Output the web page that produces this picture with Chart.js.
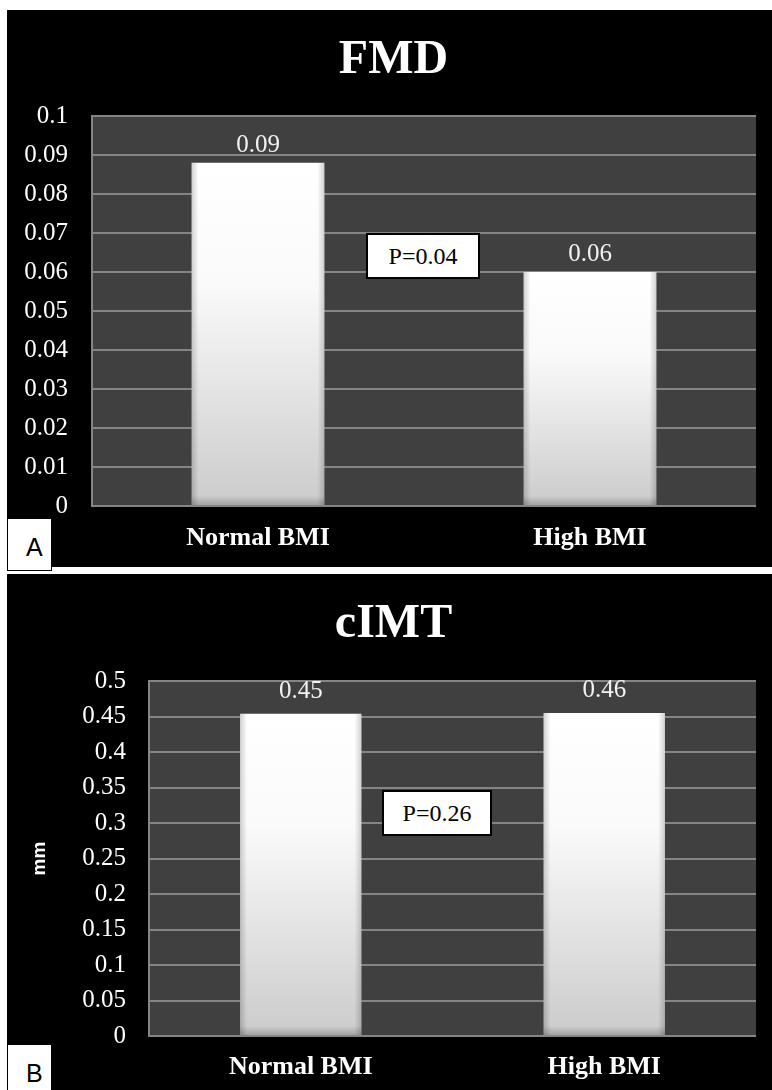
<!DOCTYPE html>
<html>
<head>
<meta charset="utf-8">
<script src="https://cdn.jsdelivr.net/npm/chart.js@4.4.1/dist/chart.umd.min.js"></script>
<style>
html,body{margin:0;padding:0;background:#fff;}
body{width:772px;height:1090px;position:relative;overflow:hidden;}
.panel{position:absolute;left:7px;width:765px;background:#000;}
#pa{top:10px;height:557px;}
#pb{top:574px;height:516px;}
.pbox{position:absolute;background:#fff;border:2px solid #000;box-sizing:border-box;
  font:24px "Liberation Serif","Times New Roman",serif;color:#000;
  display:flex;align-items:center;justify-content:center;}
.tag{position:absolute;left:7px;width:45px;height:53px;background:#fff;border:1.5px solid #000;
  box-sizing:border-box;font:25px "Liberation Sans",Arial,sans-serif;color:#000;
  padding-left:18px;padding-top:6px;line-height:44px;}
</style>
</head>
<body>
<div class="panel" id="pa"><canvas id="fmdChart"></canvas></div>
<div class="panel" id="pb"><canvas id="cimtChart"></canvas></div>
<div class="pbox" style="left:366px;top:233px;width:114px;height:46px">P=0.04</div>
<div class="pbox" style="left:382px;top:790px;width:110px;height:46px">P=0.26</div>
<div class="tag" style="top:518px">A</div>
<div class="tag" style="top:1044px">B</div>
<script>
const CATEGORIES = ['Normal BMI', 'High BMI'];

const FMD_VALUES = [0.088, 0.060];
const FMD_LABELS = ['0.09', '0.06'];
const FMD_TICKS = ['0','0.01','0.02','0.03','0.04','0.05','0.06','0.07','0.08','0.09','0.1'];

const CIMT_VALUES = [0.454, 0.455];
const CIMT_LABELS = ['0.45', '0.46'];
const CIMT_TICKS = ['0','0.05','0.1','0.15','0.2','0.25','0.3','0.35','0.4','0.45','0.5'];

const SERIF = '"Liberation Serif","Times New Roman",serif';

// dark plot area
const plotBg = {
  id:'plotBg',
  beforeDraw(chart){
    const {ctx, chartArea:a} = chart;
    ctx.save();
    ctx.fillStyle = '#404040';
    ctx.fillRect(a.left, a.top, a.right-a.left, a.bottom-a.top);
    ctx.restore();
  }
};

// soft bevel on the bars + value labels above them
const barDeco = {
  id:'barDeco',
  afterDatasetsDraw(chart, args, opts){
    const {ctx} = chart;
    const meta = chart.getDatasetMeta(0);
    ctx.save();
    meta.data.forEach(bar=>{
      const w = bar.width, l = bar.x-w/2, r = bar.x+w/2, t = bar.y, b = bar.base;
      let g = ctx.createLinearGradient(l,0,l+7,0);
      g.addColorStop(0,'rgba(0,0,0,0.18)'); g.addColorStop(1,'rgba(0,0,0,0)');
      ctx.fillStyle = g; ctx.fillRect(l,t,7,b-t);
      g = ctx.createLinearGradient(r,0,r-7,0);
      g.addColorStop(0,'rgba(0,0,0,0.18)'); g.addColorStop(1,'rgba(0,0,0,0)');
      ctx.fillStyle = g; ctx.fillRect(r-7,t,7,b-t);
      g = ctx.createLinearGradient(0,b,0,b-9);
      g.addColorStop(0,'rgba(0,0,0,0.2)'); g.addColorStop(1,'rgba(0,0,0,0)');
      ctx.fillStyle = g; ctx.fillRect(l,b-9,w,9);
    });
    ctx.font = '25px '+SERIF;
    ctx.fillStyle = '#f2f2f2';
    ctx.textAlign = 'center';
    ctx.textBaseline = 'alphabetic';
    meta.data.forEach((bar,i)=>ctx.fillText(opts.labels[i], bar.x, bar.y-opts.offset));
    ctx.restore();
  }
};

const panelTitle = {
  id:'panelTitle',
  afterDraw(chart, args, opts){
    const {ctx} = chart;
    ctx.save();
    ctx.font = 'bold 48px '+SERIF;
    ctx.fillStyle = '#fff';
    ctx.textAlign = 'center';
    ctx.textBaseline = 'alphabetic';
    ctx.fillText(opts.text, chart.width/2+4, opts.baseline);
    ctx.restore();
  }
};

function barFill(c){
  const chart = c.chart, y = chart.scales.y;
  if(!y) return '#fff';
  const top = y.getPixelForValue(c.raw), base = y.getPixelForValue(0);
  if(!isFinite(top) || !isFinite(base) || base-top < 1) return '#fff';
  const g = chart.ctx.createLinearGradient(0,top,0,base);
  g.addColorStop(0,'#ffffff');
  g.addColorStop(0.35,'#fafafa');
  g.addColorStop(0.7,'#e1e1e1');
  g.addColorStop(1,'#cbcbcb');
  return g;
}

function makeChart(id, values, labels, ticks, max, step, cfg){
  return new Chart(document.getElementById(id),{
    type:'bar',
    data:{labels:CATEGORIES, datasets:[{data:values, backgroundColor:barFill, borderWidth:0,
      categoryPercentage:1, barPercentage:0.4}]},
    options:{
      responsive:true, maintainAspectRatio:false, animation:false,
      layout:{padding:{top:cfg.top, right:16, bottom:0, left:0}},
      plugins:{legend:{display:false}, tooltip:{enabled:false},
        barDeco:{labels:labels, offset:cfg.labelOffset},
        panelTitle:{text:cfg.title, baseline:63}},
      scales:{
        x:{grid:{display:false}, border:{display:false},
          ticks:{color:'#fff', padding:cfg.xPad, font:{family:SERIF, size:26, weight:'bold'}},
          afterFit(s){ s.height = cfg.xHeight; }},
        y:{min:0, max:max,
          grid:{color:'#858585', lineWidth:2, drawTicks:false},
          border:{color:'#858585', width:2},
          ticks:{stepSize:step, color:'#fff', padding:cfg.tickPad, font:{family:SERIF, size:25},
            callback:(v,i)=>ticks[i]},
          title:cfg.yTitle ? {display:true, text:cfg.yTitle, color:'#fff', padding:{top:21},
            font:{family:'"Liberation Sans",Arial,sans-serif', size:19, weight:'bold'}} : {display:false},
          afterFit(s){ s.width = cfg.yWidth; }}
      }
    },
    plugins:[plotBg, barDeco, panelTitle]
  });
}

makeChart('fmdChart', FMD_VALUES, FMD_LABELS, FMD_TICKS, 0.1, 0.01,
  {title:'FMD', top:106, xHeight:61, yWidth:85, tickPad:24, labelOffset:11, xPad:9});
makeChart('cimtChart', CIMT_VALUES, CIMT_LABELS, CIMT_TICKS, 0.5, 0.05,
  {title:'cIMT', top:107, xHeight:54, yWidth:142, tickPad:23, labelOffset:16, xPad:8, yTitle:'mm'});
</script>
</body>
</html>
